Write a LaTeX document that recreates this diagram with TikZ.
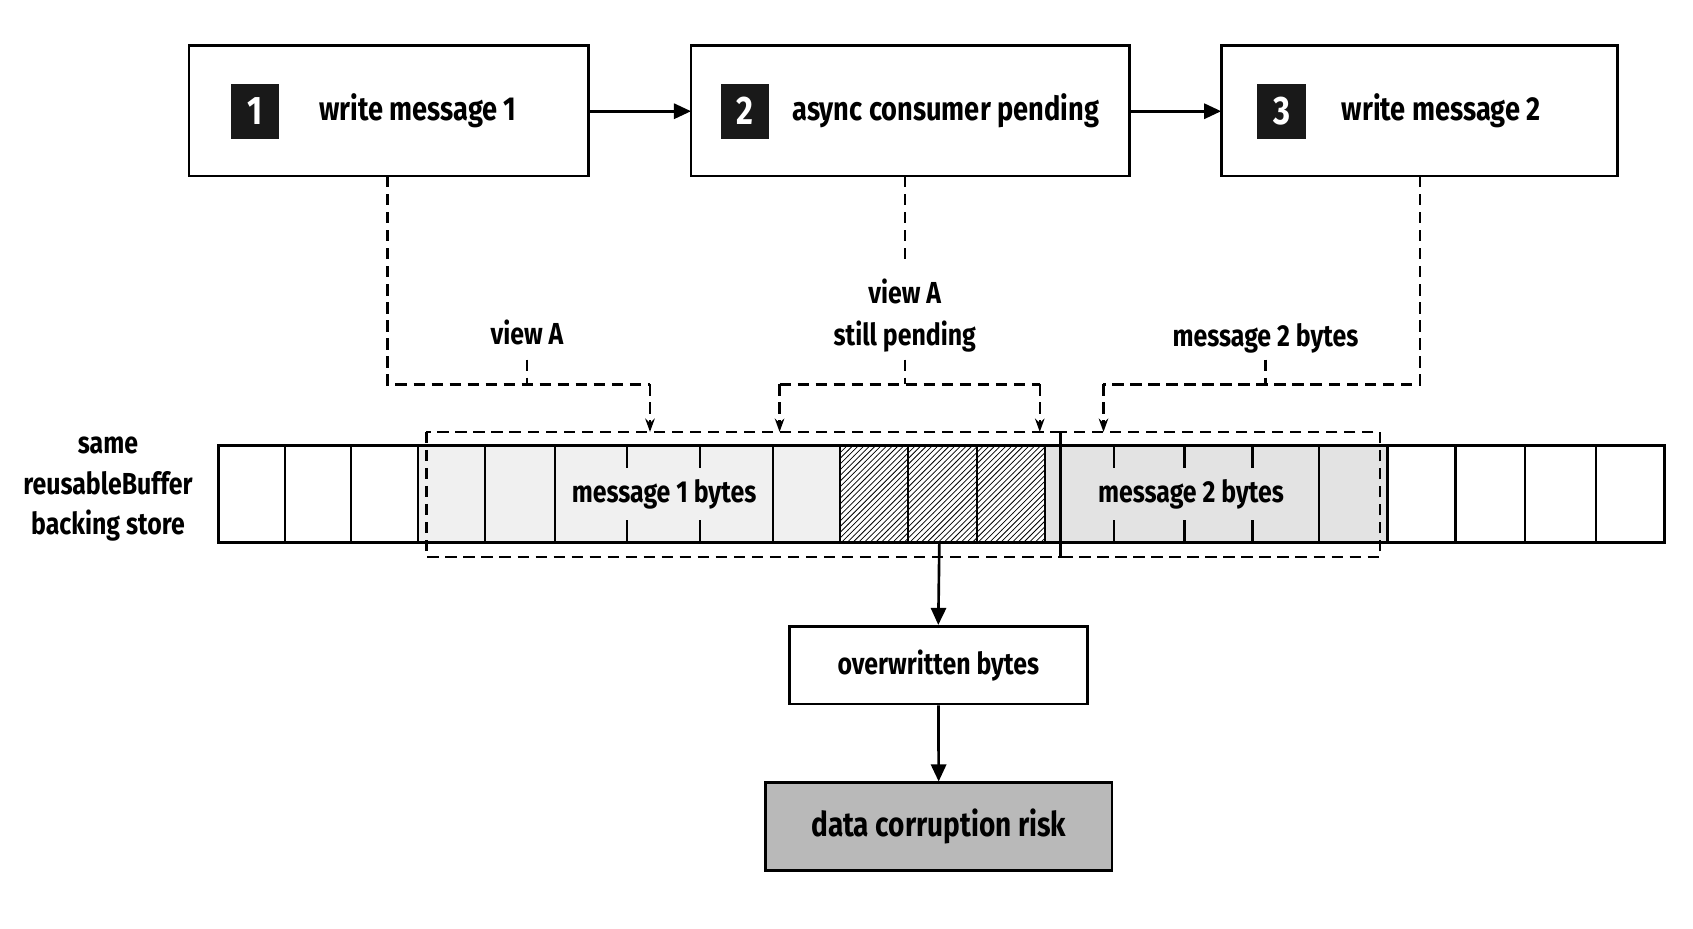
\documentclass[tikz,border=0pt]{standalone}
\usepackage{fontspec}
\setmainfont[FakeStretch=0.82]{Fira Sans}
\usetikzlibrary{arrows.meta,patterns}
\begin{document}
\begin{tikzpicture}[x=0.02cm,y=-0.02cm,
  stepbox/.style={draw,line width=1.4pt,fill=white},
  badge/.style={fill=black!90,text=white,inner sep=0pt,minimum width=0.9cm,minimum height=1.02cm,font=\fontsize{21}{22}\selectfont\bfseries},
  lbl/.style={font=\fontsize{16}{20}\selectfont\mdseries\fontseries{sb}\selectfont,align=center},
  arr/.style={line width=1.4pt,-{Triangle[length=9pt,width=8pt]}},
  dsh/.style={line width=1.3pt,dash pattern=on 6pt off 3.5pt},
  darr/.style={dsh,-{Stealth[length=7pt,width=5pt]}},
  cell/.style={line width=1.1pt}]
\useasboundingbox (0,0) rectangle (1568,860);
\fill[white] (0,0) rectangle (1568,860);
% top boxes
\draw[stepbox] (175,42) rectangle (545,163);
\draw[stepbox] (640,42) rectangle (1046,163);
\draw[stepbox] (1131,42) rectangle (1498,163);
\coordinate (b1r) at (545,103); \coordinate (b2l) at (640,103);
\coordinate (b2r) at (1046,103); \coordinate (b3l) at (1131,103);
\node[badge] (n1) at (236,103) {1};
\node[badge] (n2) at (690,103) {2};
\node[badge] (n3) at (1187,103) {3};
\node[lbl,font=\fontsize{17.5}{20}\selectfont\fontseries{sb}\selectfont] (t1) at (387,103) {write message 1};
\node[lbl,font=\fontsize{17.5}{20}\selectfont\fontseries{sb}\selectfont] (t2) at (876,103) {async consumer pending};
\node[lbl,font=\fontsize{17.5}{20}\selectfont\fontseries{sb}\selectfont] (t3) at (1335,103) {write message 2};
\draw[arr] (b1r) -- (b2l);
\draw[arr] (b2r) -- (b3l);
% buffer
\fill[gray!12] (387,413) rectangle (778,502);
\fill[gray!22] (968,413) rectangle (1285,502);
\fill[pattern=north east lines] (778,413) rectangle (968,502);
\draw[line width=1.6pt] (202,413) rectangle (1542,502);
\foreach \x in {264,325,387,449,514,716,778,841,905,968,1222,1285,1348,1412,1478}
  \draw[cell] (\x,413) -- (\x,502);
\foreach \x in {581,648,1032,1097,1160}{
  \draw[cell] (\x,413) -- (\x,433); \draw[cell] (\x,482) -- (\x,502);}
\node[lbl] (m1) at (615,458) {message 1 bytes};
\node[lbl] (m2) at (1103,458) {message 2 bytes};
\draw[dsh] (395,400) rectangle (982,516);
\draw[dsh] (982,400) rectangle (1278,516);
\node[lbl,font=\fontsize{16}{21.5}\selectfont\fontseries{sb}\selectfont] (side) at (100,453) {same\\reusableBuffer\\backing store};
% dashed connectors
\coordinate (a1) at (602,400); \coordinate (a2) at (722,400);
\coordinate (a3) at (963,400); \coordinate (a4) at (1022,400);
\node[lbl] (va) at (488,308) {view A};
\node[lbl] (vb) at (838,292) {view A\\[2pt]still pending};
\node[lbl] (vc) at (1172,313) {message 2 bytes};
\draw[dsh] (359,163) -- (359,356) -- (602,356);
\draw[darr] (602,356) -- (a1);
\draw[dsh] (488,333) -- (488,356);
\draw[dsh] (838,163) -- (838,240);
\draw[dsh] (838,333) -- (838,356);
\draw[dsh] (722,356) -- (963,356);
\draw[darr] (722,356) -- (a2);
\draw[darr] (963,356) -- (a3);
\draw[dsh] (1315,163) -- (1315,356) -- (1022,356);
\draw[darr] (1022,356) -- (a4);
\draw[dsh] (1172,333) -- (1172,356);
% bottom
\node[draw,line width=1.4pt,minimum width=276*0.02cm,minimum height=72*0.02cm,lbl] (ow) at (869,616) {overwritten bytes};
\node[draw,line width=1.4pt,fill=gray!55,minimum width=321*0.02cm,minimum height=81*0.02cm,lbl,font=\fontsize{18}{20}\selectfont\fontseries{sb}\selectfont] (dc) at (869.5,765.5) {data corruption risk};
\coordinate (bufb) at (870,502);
\draw[arr] (bufb) -- (ow.north);
\draw[arr] (ow) -- (dc);
\end{tikzpicture}
\end{document}
